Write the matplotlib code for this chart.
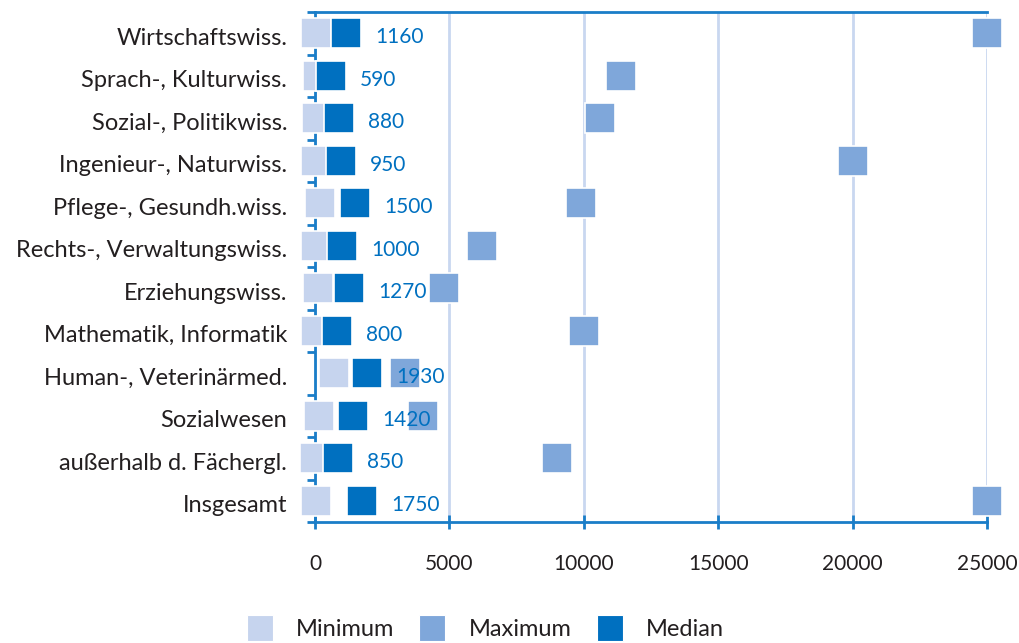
import numpy as np
import matplotlib
matplotlib.use("Agg")
import matplotlib.pyplot as plt
import matplotlib.transforms as mtransforms
from matplotlib.lines import Line2D

plt.rcParams['font.family'] = ['Lato', 'DejaVu Sans']

categories = [
    "Wirtschaftswiss.",
    "Sprach-, Kulturwiss.",
    "Sozial-, Politikwiss.",
    "Ingenieur-, Naturwiss.",
    "Pflege-, Gesundh.wiss.",
    "Rechts-, Verwaltungswiss.",
    "Erziehungswiss.",
    "Mathematik, Informatik",
    "Human-, Veterinärmed.",
    "Sozialwesen",
    "außerhalb d. Fächergl.",
    "Insgesamt",
]
minimum = [50, 100, 60, 50, 170, 40, 130, 20, 690, 140, 0, 20]
maximum = [25000, 11400, 10600, 20000, 9900, 6200, 4800, 10000, 3350, 4000, 9000, 25000]
median = [1160, 590, 880, 950, 1500, 1000, 1270, 800, 1930, 1420, 850, 1750]

c_min = "#C6D4EE"
c_max = "#7FA7DA"
c_med = "#0070C0"
c_axis = "#1A7DC8"
c_grid = "#C9D7F0"
c_text = "#231F20"

fig = plt.figure(figsize=(10.2, 6.43), dpi=100)
ax = fig.add_axes([315 / 1020, 1 - 522 / 643, 672 / 1020, 510 / 643])

y = np.arange(len(categories))
ms = 21
ax.plot(minimum, y, "s", ms=ms, mfc=c_min, mec="white", mew=1.2, zorder=4, clip_on=False)
ax.plot(maximum, y, "s", ms=ms, mfc=c_max, mec="white", mew=1.2, zorder=4, clip_on=False)
ax.plot(median, y, "s", ms=ms, mfc=c_med, mec="white", mew=1.2, zorder=5, clip_on=False)

for yi, m in zip(y, median):
    ax.annotate(str(m), (m, yi), xytext=(21, -3), textcoords="offset points",
                ha="left", va="center", color=c_med, fontsize=15, zorder=6)

ax.set_xlim(0, 25000)
ax.set_ylim(len(categories) - 0.5, -0.5)
ax.set_xticks([0, 5000, 10000, 15000, 20000, 25000])
ax.set_yticks(y)
ax.set_yticklabels(categories)
ax.set_yticks(np.arange(len(categories) + 1) - 0.5, minor=True)

ax.grid(axis="x", color=c_grid, linewidth=2, zorder=1)
ax.set_axisbelow(True)

for side in ["left", "top", "bottom"]:
    ax.spines[side].set_color(c_axis)
    ax.spines[side].set_linewidth(2)
ax.spines["right"].set_visible(False)

ax.tick_params(axis="y", which="major", length=0, pad=20, labelsize=17, labelcolor=c_text)
ax.tick_params(axis="y", which="minor", length=6, width=2, color=c_axis, direction="out")
ax.tick_params(axis="x", which="major", length=10, width=2, color=c_axis, direction="inout",
               pad=18, labelsize=15, labelcolor=c_text)

shift = mtransforms.ScaledTranslation(0, -3 / 100, fig.dpi_scale_trans)
for lbl in ax.get_yticklabels():
    lbl.set_transform(lbl.get_transform() + shift)

handles = [
    Line2D([], [], marker="s", linestyle="none", ms=19, mfc=c_min, mec="white", mew=0.8),
    Line2D([], [], marker="s", linestyle="none", ms=19, mfc=c_max, mec="white", mew=0.8),
    Line2D([], [], marker="s", linestyle="none", ms=19, mfc=c_med, mec="white", mew=0.8),
]
fig.legend(handles, ["Minimum", "Maximum", "Median"], loc="center",
           bbox_to_anchor=(0.476, 0.021), ncol=3, frameon=False, fontsize=17,
           handlelength=1.1, handletextpad=1.0, columnspacing=1.05, labelcolor=c_text)

fig.savefig("out.png", dpi=100)
